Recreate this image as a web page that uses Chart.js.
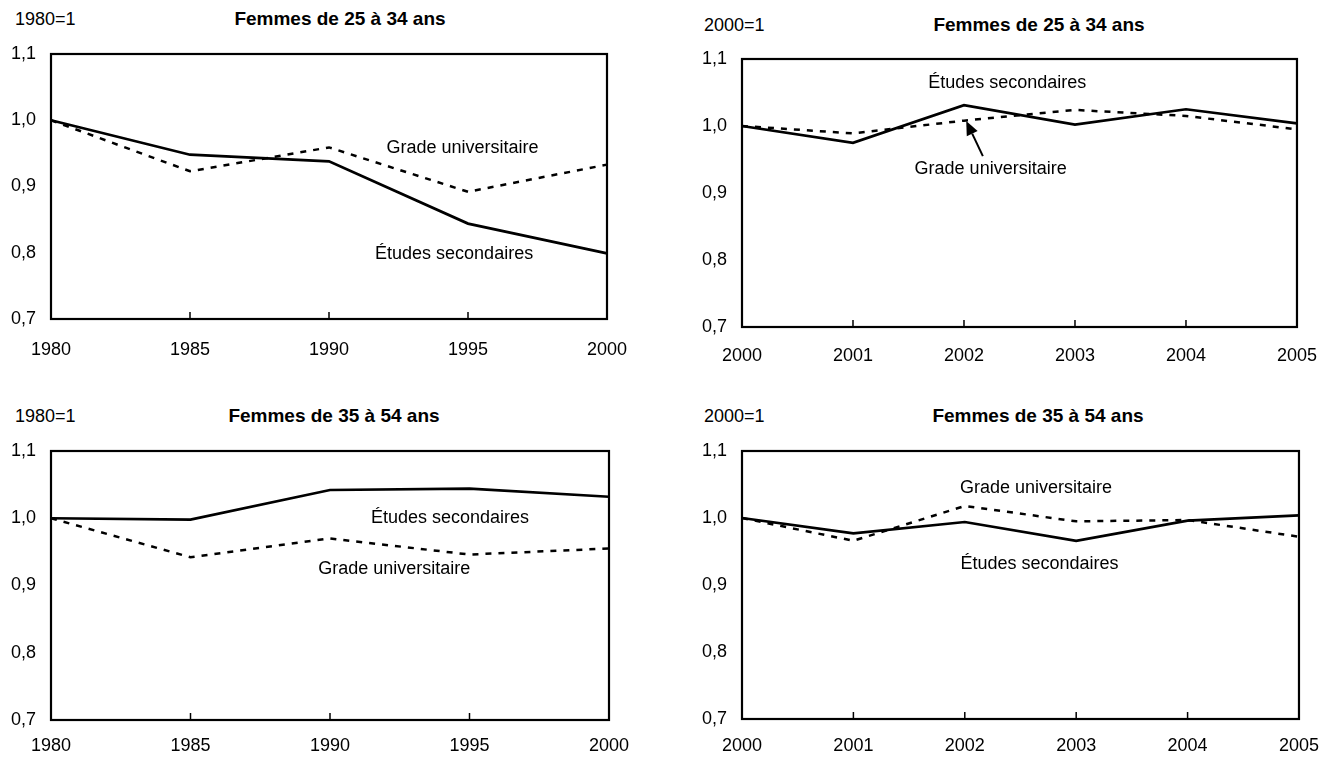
<!DOCTYPE html>
<html><head><meta charset="utf-8">
<script src="https://cdn.jsdelivr.net/npm/chart.js@4.4.1/dist/chart.umd.min.js"></script>
<style>
html,body{margin:0;padding:0;background:#fff;width:1335px;height:757px;overflow:hidden;}
body{position:relative;font-family:"Liberation Sans",Arial,sans-serif;color:#000;}
canvas{position:absolute;}
.unit,.title{position:absolute;font-size:18px;line-height:18px;white-space:nowrap;}
.title{font-weight:bold;font-size:19px;line-height:19px;transform:translateX(-50%);}
</style></head><body>
<div class="unit" style="left:15px;top:10px">1980=1</div>
<div class="title" style="left:340px;top:9px">Femmes de 25 à 34 ans</div>
<div class="unit" style="left:704px;top:16px">2000=1</div>
<div class="title" style="left:1039px;top:15px">Femmes de 25 à 34 ans</div>
<div class="unit" style="left:15px;top:407px">1980=1</div>
<div class="title" style="left:334px;top:406px">Femmes de 35 à 54 ans</div>
<div class="unit" style="left:704px;top:407px">2000=1</div>
<div class="title" style="left:1038px;top:406px">Femmes de 35 à 54 ans</div>

<canvas id="c1" width="650" height="380" style="left:0;top:0"></canvas>
<canvas id="c2" width="655" height="390" style="left:680px;top:0"></canvas>
<canvas id="c3" width="650" height="367" style="left:0;top:390px"></canvas>
<canvas id="c4" width="655" height="367" style="left:680px;top:390px"></canvas>
<script>
const FONT = '"Liberation Sans", Arial, sans-serif';

const years1980 = ['1980','1985','1990','1995','2000'];
const years2000 = ['2000','2001','2002','2003','2004','2005'];
const yTickLabels = ['0,7','0,8','0,9','1,0','1,1'];

// Femmes de 25 à 34 ans, 1980=1
const p1Secondaires = [1.000, 0.948, 0.938, 0.844, 0.799];
const p1Universitaire = [1.000, 0.923, 0.959, 0.892, 0.933];
// Femmes de 25 à 34 ans, 2000=1
const p2Secondaires = [1.000, 0.975, 1.031, 1.002, 1.025, 1.004];
const p2Universitaire = [1.000, 0.989, 1.008, 1.024, 1.015, 0.995];
// Femmes de 35 à 54 ans, 1980=1
const p3Secondaires = [1.000, 0.998, 1.042, 1.044, 1.032];
const p3Universitaire = [1.000, 0.942, 0.970, 0.946, 0.955];
// Femmes de 35 à 54 ans, 2000=1
const p4Secondaires = [1.000, 0.977, 0.994, 0.966, 0.996, 1.004];
const p4Universitaire = [1.000, 0.966, 1.018, 0.995, 0.997, 0.972];

const labelSecondaires = 'Études secondaires';
const labelUniversitaire = 'Grade universitaire';

function xAt(xs, labels, year){
  const first = +labels[0], step = +labels[1] - +labels[0];
  return xs.getPixelForValue((year - first) / step);
}

function framePlugin(labels, notes, arrow){
  return {
    id:'frame',
    afterDraw(chart){
      const ctx = chart.ctx, a = chart.chartArea, xs = chart.scales.x, ys = chart.scales.y;
      ctx.save();
      ctx.strokeStyle = '#000';
      ctx.lineWidth = 1.5;
      xs.ticks.forEach((t, i) => {
        const px = xs.getPixelForTick(i);
        ctx.beginPath(); ctx.moveTo(px, a.bottom); ctx.lineTo(px, a.bottom - 7); ctx.stroke();
      });
      ctx.lineWidth = 2.2;
      ctx.strokeRect(a.left, a.top, a.right - a.left, a.bottom - a.top);
      ctx.fillStyle = '#000';
      ctx.font = '18px ' + FONT;
      ctx.textAlign = 'center';
      ctx.textBaseline = 'middle';
      notes.forEach(n => ctx.fillText(n.text, xAt(xs, labels, n.year), ys.getPixelForValue(n.value)));
      if (arrow){
        const x0 = xAt(xs, labels, arrow.from[0]), y0 = ys.getPixelForValue(arrow.from[1]);
        const x1 = xAt(xs, labels, arrow.to[0]), y1 = ys.getPixelForValue(arrow.to[1]);
        const ang = Math.atan2(y1 - y0, x1 - x0), L = 14, W = 6;
        const bx = x1 - L * Math.cos(ang), by = y1 - L * Math.sin(ang);
        ctx.lineWidth = 2;
        ctx.beginPath(); ctx.moveTo(x0, y0); ctx.lineTo(bx, by); ctx.stroke();
        ctx.beginPath();
        ctx.moveTo(x1, y1);
        ctx.lineTo(bx + W * Math.sin(ang), by - W * Math.cos(ang));
        ctx.lineTo(bx - W * Math.sin(ang), by + W * Math.cos(ang));
        ctx.closePath(); ctx.fill();
      }
      ctx.restore();
    }
  };
}

function makePanel(id, labels, sec, uni, notes, arrow, g){
  return new Chart(document.getElementById(id), {
    type:'line',
    data:{labels:labels, datasets:[
      {label:labelUniversitaire, data:uni, borderColor:'#000', borderWidth:2.5, borderDash:[6,7], pointRadius:0, tension:0, fill:false},
      {label:labelSecondaires, data:sec, borderColor:'#000', borderWidth:2.7, pointRadius:0, tension:0, fill:false}
    ]},
    options:{
      responsive:false, animation:false, events:[],
      layout:{padding:{left:0, top:g.padTop, right:g.padRight, bottom:0}},
      plugins:{legend:{display:false}, tooltip:{enabled:false}, title:{display:false}},
      scales:{
        x:{type:'category', offset:false, grid:{display:false, drawTicks:false, tickLength:0}, border:{display:false},
          ticks:{color:'#000', font:{family:FONT, size:18}, padding:g.xPad, maxRotation:0, autoSkip:false},
          afterFit(s){ s.height = g.xHeight; }},
        y:{min:0.7, max:1.1, grid:{display:false, drawTicks:false, tickLength:0}, border:{display:false},
          ticks:{stepSize:0.1, color:'#000', font:{family:FONT, size:18}, padding:15,
            callback:(v, i) => yTickLabels[i]},
          afterFit(s){ s.width = g.yWidth; }}
      }
    },
    plugins:[framePlugin(labels, notes, arrow)]
  });
}

makePanel('c1', years1980, p1Secondaires, p1Universitaire,
  [{text:labelUniversitaire, year:1994.8, value:0.958},{text:labelSecondaires, year:1994.5, value:0.798}],
  null, {padTop:54, padRight:43, yWidth:51, xHeight:61, xPad:20});
makePanel('c2', years2000, p2Secondaires, p2Universitaire,
  [{text:labelSecondaires, year:2002.39, value:1.064},{text:labelUniversitaire, year:2002.24, value:0.936}],
  {from:[2002.17, 0.955], to:[2002.02, 1.0075]}, {padTop:59, padRight:33, yWidth:62, xHeight:63, xPad:18});
makePanel('c3', years1980, p3Secondaires, p3Universitaire,
  [{text:labelSecondaires, year:1994.3, value:1.0},{text:labelUniversitaire, year:1992.3, value:0.925}],
  null, {padTop:61, padRight:41, yWidth:51, xHeight:37, xPad:15});
makePanel('c4', years2000, p4Secondaires, p4Universitaire,
  [{text:labelUniversitaire, year:2002.64, value:1.045},{text:labelSecondaires, year:2002.67, value:0.931}],
  null, {padTop:61, padRight:34, yWidth:62, xHeight:38, xPad:16});
</script>
</body></html>
